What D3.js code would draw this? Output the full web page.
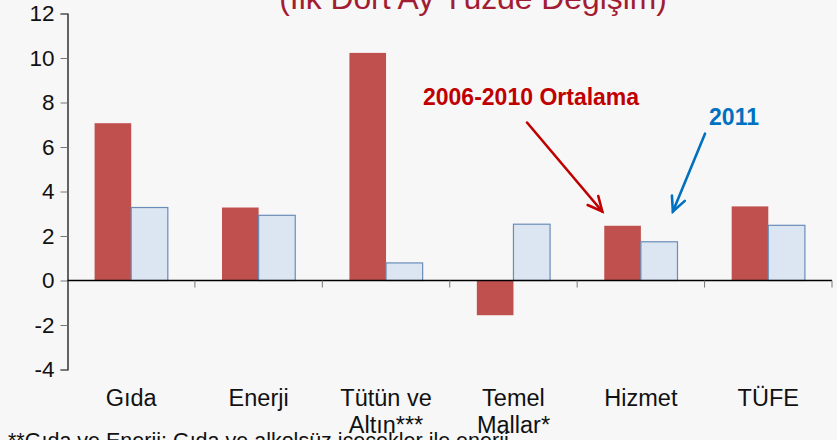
<!DOCTYPE html>
<html>
<head>
<meta charset="utf-8">
<script src="https://cdn.jsdelivr.net/npm/d3@7"></script>
<style>
  body { margin: 0; background: #f7f7f7; }
  svg { display: block; font-family: "Liberation Sans", Arial, sans-serif; }
</style>
</head>
<body>
<script>
const width = 837;
const height = 440;

// Veriler
const categories = ["Gıda", "Enerji", "Tütün ve\nAltın***", "Temel\nMallar*", "Hizmet", "TÜFE"];
const seriesNames = ["2006-2010 Ortalama", "2011"];
const avg0610 = [7.07, 3.28, 10.23, -1.56, 2.46, 3.33];
const y2011 = [3.28, 2.93, 0.79, 2.53, 1.74, 2.48];
const yTicks = [-4, -2, 0, 2, 4, 6, 8, 10, 12];

const margin = { top: 13.5, right: 5, bottom: 70.5, left: 67.5 };

const svg = d3.select("body").append("svg")
    .attr("width", width)
    .attr("height", height);

svg.append("rect").attr("width", width).attr("height", height).attr("fill", "#f7f7f7");

const x0 = d3.scaleBand()
    .domain(categories)
    .range([margin.left, width - margin.right]);

const x1 = d3.scaleBand()
    .domain(seriesNames)
    .range([0, x0.bandwidth()])
    .paddingOuter(0.74);

const y = d3.scaleLinear()
    .domain([-4, 12])
    .range([height - margin.bottom, margin.top]);

// Başlık (kesik)
svg.append("text")
    .attr("x", 473)
    .attr("y", 9)
    .attr("text-anchor", "middle")
    .attr("font-size", "31.8px")
    .attr("fill", "#a21c34")
    .text("(İlk Dört Ay Yüzde Değişim)");

// Çubuklar
const rows = categories.map((c, i) => ({ cat: c, vals: [avg0610[i], y2011[i]] }));

const groups = svg.selectAll("g.grp")
    .data(rows)
    .enter()
    .append("g")
    .attr("transform", d => `translate(${x0(d.cat)},0)`);

groups.selectAll("rect")
    .data(d => d.vals.map((v, j) => ({ s: seriesNames[j], v: v })))
    .enter()
    .append("rect")
    .attr("x", d => x1(d.s))
    .attr("width", x1.bandwidth())
    .attr("y", d => y(Math.max(0, d.v)))
    .attr("height", d => Math.abs(y(d.v) - y(0)))
    .attr("fill", d => d.s === "2011" ? "#dce6f2" : "#c0504d")
    .attr("stroke", d => d.s === "2011" ? "#6a8cb8" : "none")
    .attr("stroke-width", 1.2);

// Y ekseni
const yAxis = svg.append("g")
    .attr("transform", `translate(${margin.left},0)`)
    .call(d3.axisLeft(y).tickValues(yTicks).tickFormat(d => String(d)).tickSize(7).tickPadding(6));
yAxis.select(".domain").attr("stroke", "#000").attr("stroke-width", 1.2);
yAxis.selectAll(".tick line").attr("stroke", "#777");
yAxis.selectAll(".tick text")
    .attr("font-size", "22.5px")
    .attr("fill", "#111")
    .attr("font-family", "'Liberation Sans', Arial, sans-serif");

// Sıfır çizgisi ve kategori işaretleri
svg.append("line")
    .attr("x1", margin.left).attr("x2", width - margin.right)
    .attr("y1", y(0)).attr("y2", y(0))
    .attr("stroke", "#000").attr("stroke-width", 1.5);

svg.selectAll("line.ctick")
    .data(categories)
    .enter()
    .append("line")
    .attr("class", "ctick")
    .attr("x1", d => x0(d) + x0.bandwidth())
    .attr("x2", d => x0(d) + x0.bandwidth())
    .attr("y1", y(0))
    .attr("y2", y(0) + 7)
    .attr("stroke", "#777");

// Kategori etiketleri
const catLabels = svg.selectAll("text.cat")
    .data(categories)
    .enter()
    .append("text")
    .attr("class", "cat")
    .attr("text-anchor", "middle")
    .attr("font-size", "23.5px")
    .attr("fill", "#111")
    .attr("transform", d => `translate(${x0(d) + x0.bandwidth() / 2},406)`);

catLabels.each(function (d) {
    d.split("\n").forEach((line, k) => {
        d3.select(this).append("tspan")
            .attr("x", 0)
            .attr("y", k * 27)
            .text(line);
    });
});

// Açıklamalar
function arrow(x1a, y1a, x2a, y2a, color) {
    const ang = Math.atan2(y2a - y1a, x2a - x1a);
    const len = 16, spread = 0.45;
    const g = svg.append("g")
        .attr("stroke", color)
        .attr("stroke-width", 2.6)
        .attr("fill", "none")
        .attr("stroke-linecap", "round");
    g.append("line").attr("x1", x1a).attr("y1", y1a).attr("x2", x2a).attr("y2", y2a);
    g.append("path").attr("d",
        `M${x2a - len * Math.cos(ang - spread)},${y2a - len * Math.sin(ang - spread)}` +
        `L${x2a},${y2a}` +
        `L${x2a - len * Math.cos(ang + spread)},${y2a - len * Math.sin(ang + spread)}`);
}

const hx = x0("Hizmet");
svg.append("text")
    .attr("x", 423)
    .attr("y", y(7.9))
    .attr("font-size", "23px")
    .attr("font-weight", "bold")
    .attr("fill", "#c00000")
    .text(seriesNames[0]);
arrow(527, y(7.1), hx + x1(seriesNames[0]) - 2, y(3.1), "#c00000");

svg.append("text")
    .attr("x", 734)
    .attr("y", y(7.0))
    .attr("text-anchor", "middle")
    .attr("font-size", "23px")
    .attr("font-weight", "bold")
    .attr("fill", "#0070c0")
    .text(seriesNames[1]);
arrow(705, y(6.6), hx + x1(seriesNames[1]) + 32, y(3.1), "#0070c0");

// Dipnot (kesik)
svg.append("text")
    .attr("x", 8)
    .attr("y", 448)
    .attr("font-size", "21.5px")
    .attr("fill", "#111")
    .text("**Gıda ve Enerji: Gıda ve alkolsüz içecekler ile enerji");
</script>
</body>
</html>
